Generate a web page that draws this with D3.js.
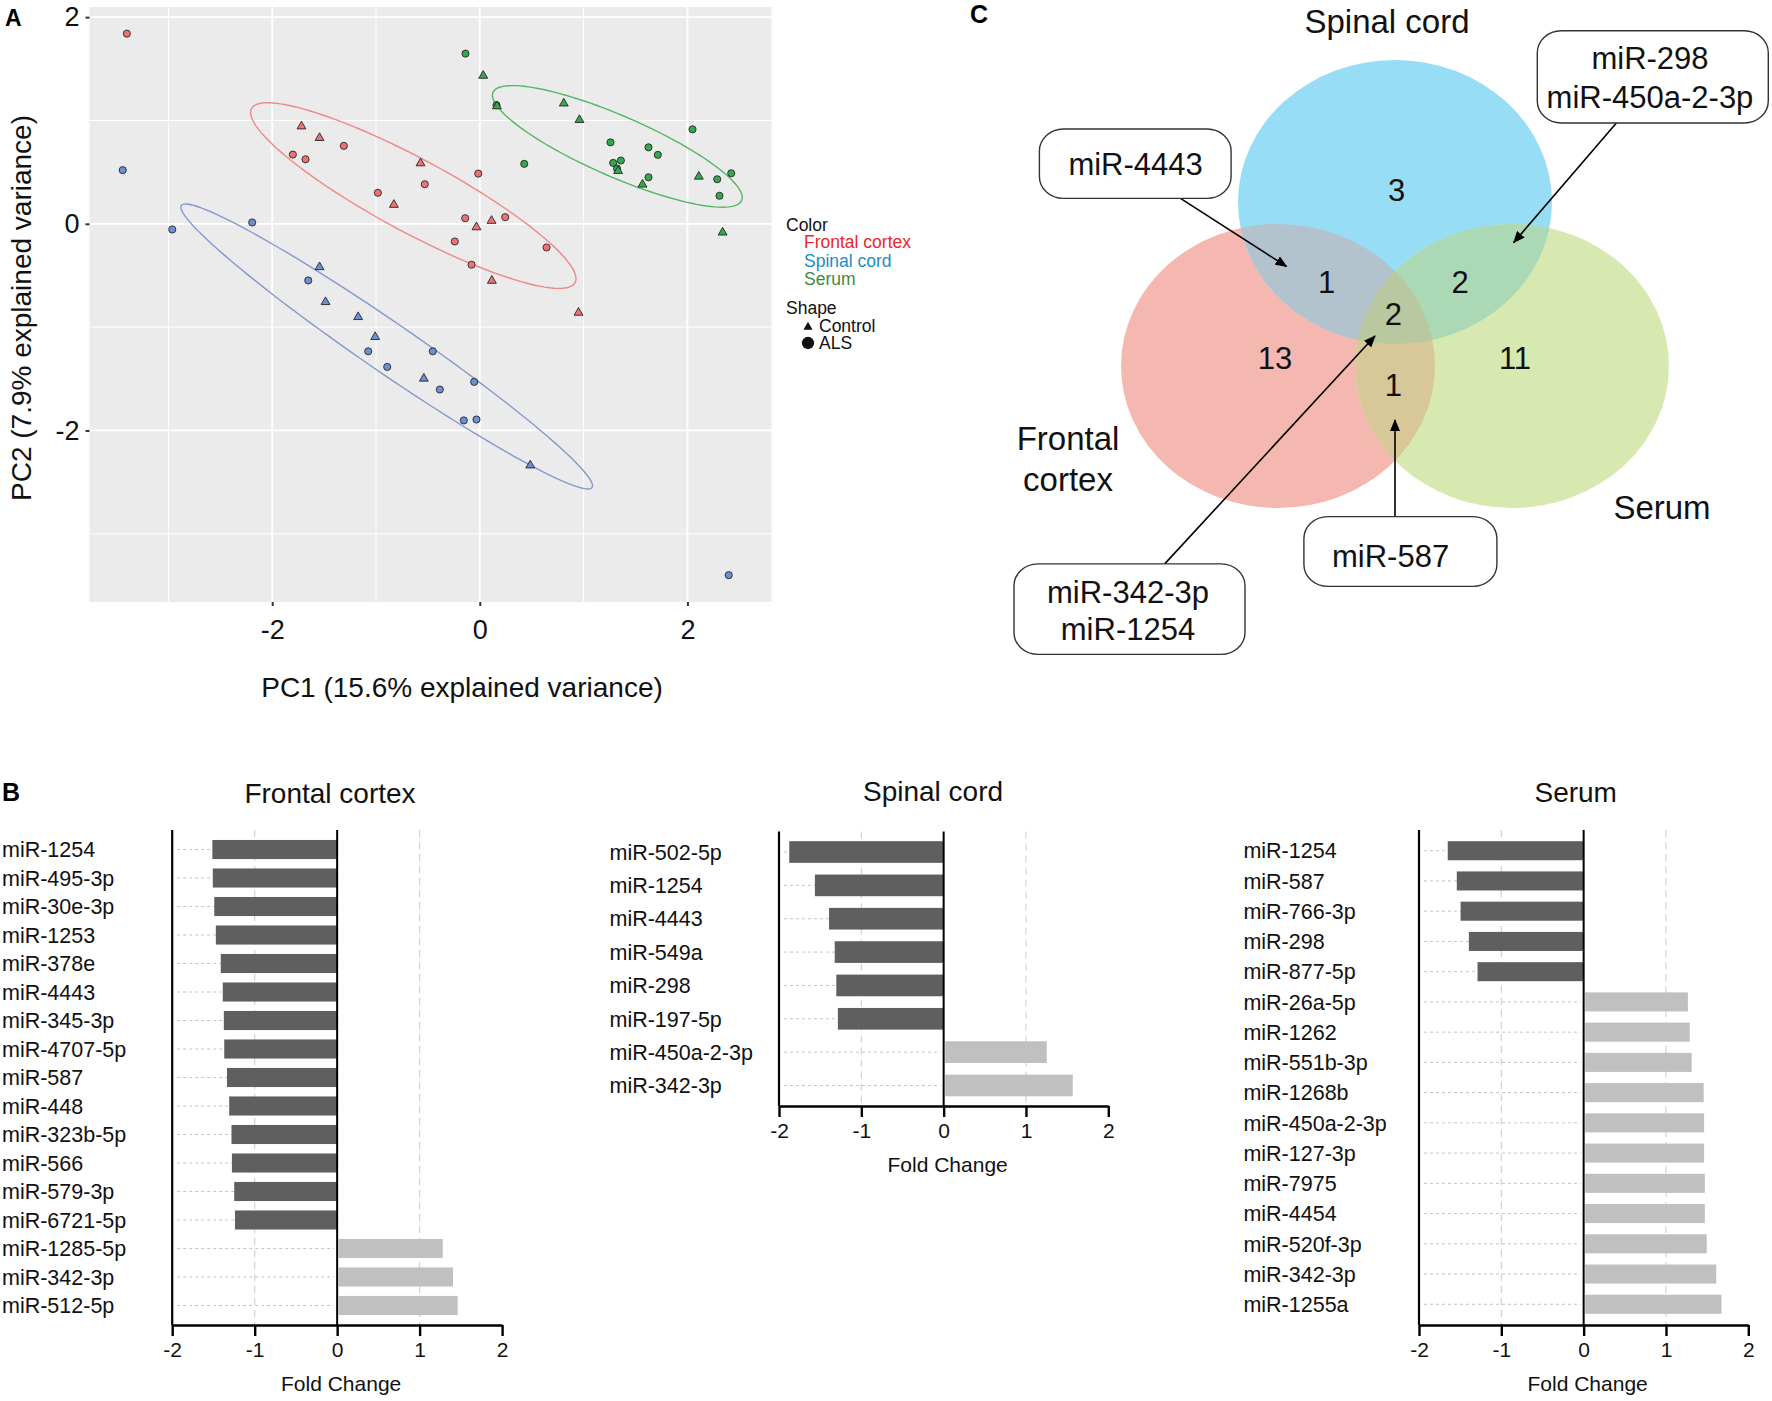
<!DOCTYPE html>
<html><head><meta charset="utf-8">
<script src="https://cdn.jsdelivr.net/npm/d3@7"></script>
<style>
body{margin:0;background:#fff;}
svg{font-family:"Liberation Sans", Arial, Helvetica, sans-serif;}
</style>
</head><body>
<svg id="c" width="1772" height="1401"></svg>
<script>
// ================= DATA =================
// Panel A: PCA scores [PC1, PC2, shape]
const frontalPCA = [
  [-3.40,1.84,"ALS"],[-1.718,0.943,"Control"],[-1.544,0.831,"Control"],[-1.310,0.754,"ALS"],
  [-1.801,0.670,"ALS"],[-1.679,0.624,"ALS"],[-0.571,0.586,"Control"],[-0.015,0.486,"ALS"],
  [-0.530,0.383,"ALS"],[-0.982,0.300,"ALS"],[-0.828,0.184,"Control"],[-0.141,0.054,"ALS"],
  [0.113,0.029,"Control"],[0.245,0.064,"ALS"],[-0.032,-0.033,"Control"],[-0.241,-0.171,"ALS"],
  [0.643,-0.229,"ALS"],[-0.080,-0.396,"ALS"],[0.116,-0.551,"Control"],[0.951,-0.860,"Control"]
];
const spinalPCA = [
  [-3.44,0.519,"ALS"],[-2.963,-0.055,"ALS"],[-2.193,0.013,"ALS"],[-1.544,-0.419,"Control"],
  [-1.653,-0.548,"ALS"],[-1.486,-0.757,"Control"],[-1.172,-0.902,"Control"],[-1.008,-1.095,"Control"],
  [-1.075,-1.234,"ALS"],[-0.892,-1.385,"ALS"],[-0.453,-1.234,"ALS"],[-0.539,-1.498,"Control"],
  [-0.385,-1.604,"ALS"],[-0.054,-1.530,"ALS"],[-0.154,-1.903,"ALS"],[-0.032,-1.894,"ALS"],
  [0.486,-2.338,"Control"],[2.398,-3.40,"ALS"]
];
const serumPCA = [
  [-0.138,1.647,"ALS"],[0.033,1.433,"Control"],[0.161,1.148,"ALS"],[0.165,1.138,"Control"],
  [0.809,1.165,"Control"],[0.960,1.005,"Control"],[2.049,0.914,"ALS"],[1.259,0.788,"ALS"],
  [1.625,0.740,"ALS"],[1.715,0.667,"ALS"],[0.428,0.580,"ALS"],[1.285,0.589,"ALS"],
  [1.359,0.612,"ALS"],[1.322,0.535,"ALS"],[1.332,0.512,"Control"],[1.625,0.450,"ALS"],
  [1.567,0.380,"Control"],[2.110,0.457,"Control"],[2.287,0.431,"ALS"],[2.422,0.489,"ALS"],
  [2.309,0.271,"ALS"],[2.339,-0.084,"Control"]
];
// 95% ellipses: [centre PC1, centre PC2, semi-major, semi-minor, angle(deg)]
const frontalEllipse = [-0.641, 0.273, 1.772, 0.354, -28.4];
const spinalEllipse  = [-0.897,-1.187, 2.403, 0.241, -34.6];
const serumEllipse   = [ 1.325, 0.749, 1.307, 0.294, -23.6];
const pcaXTicks = [-2,0,2], pcaYTicks = [2,0,-2];
const pcaXMinor = [-3,-1,1], pcaYMinor = [1,-1,-3];

// Panel B: fold changes
const frontalGenes = ["miR-1254","miR-495-3p","miR-30e-3p","miR-1253","miR-378e","miR-4443","miR-345-3p","miR-4707-5p","miR-587","miR-448","miR-323b-5p","miR-566","miR-579-3p","miR-6721-5p","miR-1285-5p","miR-342-3p","miR-512-5p"];
const frontalFC = [-1.513,-1.508,-1.490,-1.471,-1.411,-1.387,-1.374,-1.369,-1.336,-1.309,-1.281,-1.276,-1.248,-1.239,1.262,1.387,1.443];
const spinalGenes = ["miR-502-5p","miR-1254","miR-4443","miR-549a","miR-298","miR-197-5p","miR-450a-2-3p","miR-342-3p"];
const spinalFC = [-1.875,-1.564,-1.392,-1.323,-1.304,-1.285,1.234,1.550];
const serumGenes = ["miR-1254","miR-587","miR-766-3p","miR-298","miR-877-5p","miR-26a-5p","miR-1262","miR-551b-3p","miR-1268b","miR-450a-2-3p","miR-127-3p","miR-7975","miR-4454","miR-520f-3p","miR-342-3p","miR-1255a"];
const serumFC = [-1.651,-1.541,-1.495,-1.394,-1.289,1.248,1.271,1.294,1.440,1.445,1.445,1.454,1.454,1.477,1.592,1.656];
const fcTicks = [-2,-1,0,1,2];

// Panel C: Venn
const vennSets = ["Frontal cortex","Spinal cord","Serum"];
const vennRegions = ["F","S","R","FS","FR","SR","FSR"];
const vennCounts  = [13, 3, 11, 1, 1, 2, 2];
const vennNotes = [["miR-4443"],["miR-298","miR-450a-2-3p"],["miR-342-3p","miR-1254"],["miR-587"]];

// ================= DRAW =================
const svg = d3.select("#c");
const defs = svg.append("defs");
const plain = d => String(d);   // hyphen-minus like the original

// ---------- Panel A ----------
const colA = {"Frontal cortex":"#F07171","Spinal cord":"#6D8FD3","Serum":"#33A84C"};
const colEll = {"Frontal cortex":"#F08787","Spinal cord":"#8499CD","Serum":"#52B863"};
const x = d3.scaleLinear().domain([-3.76,2.81]).range([89.5,771.5]);
const y = d3.scaleLinear().domain([-3.66,2.098]).range([602,7]);
const gA = svg.append("g");
gA.append("rect").attr("x",x.range()[0]).attr("y",y.range()[1]).attr("width",x.range()[1]-x.range()[0]).attr("height",y.range()[0]-y.range()[1]).attr("fill","#EBEBEB");
gA.selectAll(".vmin").data(pcaXMinor).join("line").attr("x1",d=>x(d)).attr("x2",d=>x(d)).attr("y1",y.range()[1]).attr("y2",y.range()[0]).attr("stroke","#fff").attr("stroke-width",1);
gA.selectAll(".hmin").data(pcaYMinor).join("line").attr("y1",d=>y(d)).attr("y2",d=>y(d)).attr("x1",x.range()[0]).attr("x2",x.range()[1]).attr("stroke","#fff").attr("stroke-width",1);
gA.selectAll(".vmaj").data(pcaXTicks).join("line").attr("x1",d=>x(d)).attr("x2",d=>x(d)).attr("y1",y.range()[1]).attr("y2",y.range()[0]).attr("stroke","#fff").attr("stroke-width",1.8);
gA.selectAll(".hmaj").data(pcaYTicks).join("line").attr("y1",d=>y(d)).attr("y2",d=>y(d)).attr("x1",x.range()[0]).attr("x2",x.range()[1]).attr("stroke","#fff").attr("stroke-width",1.8);

// ellipses
const ellipses = [["Frontal cortex",frontalEllipse],["Spinal cord",spinalEllipse],["Serum",serumEllipse]];
const line = d3.line().x(d=>x(d[0])).y(d=>y(d[1]));
ellipses.forEach(([g,e])=>{
  const [cx,cy,a,b,ang]=e, th=ang*Math.PI/180;
  const pts=d3.range(0,361,3).map(t=>{const r=t*Math.PI/180, dx=a*Math.cos(r), dy=b*Math.sin(r);
    return [cx+dx*Math.cos(th)-dy*Math.sin(th), cy+dx*Math.sin(th)+dy*Math.cos(th)];});
  gA.append("path").attr("d",line(pts)+"Z").attr("fill","none").attr("stroke",colEll[g]).attr("stroke-width",1.4);
});
// points
const allPts = [].concat(frontalPCA.map(p=>[...p,"Frontal cortex"]), spinalPCA.map(p=>[...p,"Spinal cord"]), serumPCA.map(p=>[...p,"Serum"]));
const tri = d3.symbol(d3.symbolTriangle, 34), circ = d3.symbol(d3.symbolCircle, 40);
gA.selectAll(".pt").data(allPts).join("path")
  .attr("d",d=>d[2]==="Control"?tri():circ())
  .attr("transform",d=>`translate(${x(d[0])},${y(d[1])})`)
  .attr("fill",d=>colA[d[3]]).attr("stroke","#262626").attr("stroke-width",0.9);

// axes
const ax = gA.append("g").attr("transform",`translate(0,${y.range()[0]})`)
  .call(d3.axisBottom(x).tickValues(pcaXTicks).tickFormat(plain).tickSize(4).tickPadding(14).tickSizeOuter(0));
const ay = gA.append("g").attr("transform",`translate(${x.range()[0]},0)`)
  .call(d3.axisLeft(y).tickValues(pcaYTicks).tickFormat(plain).tickSize(4).tickPadding(6).tickSizeOuter(0));
[ax,ay].forEach(a=>{a.select(".domain").remove();a.selectAll("line").attr("stroke","#333").attr("stroke-width",2);
  a.selectAll("text").attr("font-size",27).attr("fill","#111").attr("font-family",'"Liberation Sans", Arial, sans-serif');});
gA.append("text").attr("x",462).attr("y",697).attr("text-anchor","middle").attr("font-size",28).attr("fill","#111").text("PC1 (15.6% explained variance)");
gA.append("text").attr("transform","translate(31,308) rotate(-90)").attr("text-anchor","middle").attr("font-size",28).attr("fill","#111").text("PC2 (7.9% explained variance)");
svg.append("text").attr("x",5).attr("y",26).attr("font-size",23).attr("font-weight","bold").text("A");

// legend
const lg = svg.append("g").attr("font-size",17.5);
lg.append("text").attr("x",786).attr("y",231).attr("fill","#111").text("Color");
const legCol = {"Frontal cortex":"#E8262C","Spinal cord":"#1B8DC8","Serum":"#3E8A3E"};
vennSets.forEach((s,i)=>lg.append("text").attr("x",804).attr("y",248+i*18.5).attr("fill",legCol[s]).text(s));
lg.append("text").attr("x",786).attr("y",314).attr("fill","#111").text("Shape");
lg.append("path").attr("d",d3.symbol(d3.symbolTriangle,36)()).attr("transform","translate(808,327)").attr("fill","#111");
lg.append("path").attr("d",d3.symbol(d3.symbolCircle,120)()).attr("transform","translate(808,343)").attr("fill","#111");
lg.append("text").attr("x",819).attr("y",332).attr("fill","#111").text("Control");
lg.append("text").attr("x",819).attr("y",349).attr("fill","#111").text("ALS");

// ---------- Panel B ----------
function barChart(genes, vals, o){
  const g = svg.append("g");
  const xs = d3.scaleLinear().domain([-2,2]).range([o.x0,o.x1]);
  const ys = d3.scaleBand().domain(genes).range([o.top,o.bottom]).paddingInner(o.pi).paddingOuter(o.po);
  g.selectAll(".vg").data([-1,1]).join("line").attr("x1",d=>xs(d)).attr("x2",d=>xs(d)).attr("y1",o.top).attr("y2",o.bottom)
    .attr("stroke","#cfcfcf").attr("stroke-width",1.1).attr("stroke-dasharray","7,5");
  g.selectAll(".hg").data(genes).join("line").attr("x1",xs(-2)+5).attr("x2",xs(0)-3)
    .attr("y1",d=>ys(d)+ys.bandwidth()/2).attr("y2",d=>ys(d)+ys.bandwidth()/2)
    .attr("stroke","#c4c4c4").attr("stroke-width",1).attr("stroke-dasharray","3,3");
  g.selectAll(".bar").data(genes.map((d,i)=>[d,vals[i]])).join("rect")
    .attr("x",d=>d[1]<0?xs(d[1]):xs(0)+1.5).attr("width",d=>Math.abs(xs(d[1])-xs(0)))
    .attr("y",d=>ys(d[0])).attr("height",ys.bandwidth())
    .attr("fill",d=>d[1]<0?"#5F5F5F":"#C0C0C0");
  g.append("line").attr("x1",xs(0)).attr("x2",xs(0)).attr("y1",o.top).attr("y2",o.bottom).attr("stroke","#000").attr("stroke-width",2);
  g.append("line").attr("x1",xs(-2)).attr("x2",xs(-2)).attr("y1",o.top).attr("y2",o.bottom).attr("stroke","#000").attr("stroke-width",2.2);
  const a = g.append("g").attr("transform",`translate(0,${o.bottom})`)
    .call(d3.axisBottom(xs).tickValues(fcTicks).tickSize(11).tickPadding(6).tickSizeOuter(0).tickFormat(plain));
  a.select(".domain").attr("stroke","#000").attr("stroke-width",2.6);
  a.selectAll("line").attr("stroke","#000").attr("stroke-width",2.4);
  a.selectAll("text").attr("font-size",21).attr("fill","#111").attr("font-family",'"Liberation Sans", Arial, sans-serif');
  g.append("text").attr("x",xs(0)+4).attr("y",o.bottom+66).attr("text-anchor","middle").attr("font-size",21).attr("fill","#111").text("Fold Change");
  g.selectAll(".lab").data(genes).join("text").attr("x",o.lx).attr("y",d=>ys(d)+ys.bandwidth()/2).attr("dy","0.36em")
    .attr("font-size",21.5).attr("fill","#111").text(d=>d);
  g.append("text").attr("x",o.tx).attr("y",o.ty).attr("text-anchor","middle").attr("font-size",28).attr("fill","#111").text(o.title);
}
barChart(frontalGenes, frontalFC, {x0:172.2,x1:502.1,top:830,bottom:1325,pi:0.33,po:0.35,lx:2,tx:330,ty:802.5,title:"Frontal cortex"});
barChart(spinalGenes, spinalFC, {x0:779,x1:1108.3,top:831.5,bottom:1106,pi:0.35,po:0.29,lx:609.5,tx:933,ty:800.5,title:"Spinal cord"});
barChart(serumGenes, serumFC, {x0:1419,x1:1748.3,top:830,bottom:1325,pi:0.37,po:0.37,lx:1243.4,tx:1575.7,ty:801.5,title:"Serum"});
svg.append("text").attr("x",2).attr("y",801).attr("font-size",25).attr("font-weight","bold").text("B");

// ---------- Panel C ----------
const gC = svg.append("g");
const RX=157, RY=142;
const vc = {F:[1278,366], S:[1395,202], R:[1512,366]};
const vFill = {F:"#F5B8B1", S:"#97DDF5", R:"#D8E8B1"};
["F","S","R"].forEach(k=>{
  defs.append("clipPath").attr("id","clip"+k).append("ellipse").attr("cx",vc[k][0]).attr("cy",vc[k][1]).attr("rx",RX).attr("ry",RY);
});
["F","S","R"].forEach(k=>gC.append("ellipse").attr("cx",vc[k][0]).attr("cy",vc[k][1]).attr("rx",RX).attr("ry",RY).attr("fill",vFill[k]));
function clipped(k, clipK, fill, parent){
  (parent||gC).append("ellipse").attr("cx",vc[k][0]).attr("cy",vc[k][1]).attr("rx",RX).attr("ry",RY).attr("clip-path",`url(#clip${clipK})`).attr("fill",fill);
}
clipped("S","F","#B3C3CE");
clipped("R","S","#ABD9B5");
clipped("R","F","#D8C897");
const gCenter = gC.append("g").attr("clip-path","url(#clipS)");
clipped("R","F","#B9C8A0",gCenter);

const countPos = {F:[1275,358.3],S:[1396.7,190],R:[1515,358.3],FS:[1326.7,281.7],FR:[1393.3,385],SR:[1460,281.7],FSR:[1393.3,314]};
vennRegions.forEach((r,i)=>gC.append("text").attr("x",countPos[r][0]).attr("y",countPos[r][1]).attr("dy","0.36em")
  .attr("text-anchor","middle").attr("font-size",31).attr("fill","#111").text(vennCounts[i]));
gC.append("text").attr("x",1387).attr("y",33).attr("text-anchor","middle").attr("font-size",33).attr("fill","#111").text(vennSets[1]);
const fcWords = vennSets[0].split(" ");
gC.append("text").attr("x",1068).attr("y",450).attr("text-anchor","middle").attr("font-size",33).attr("fill","#111").text(fcWords[0]);
gC.append("text").attr("x",1068).attr("y",491).attr("text-anchor","middle").attr("font-size",33).attr("fill","#111").text(fcWords[1]);
gC.append("text").attr("x",1662).attr("y",519).attr("text-anchor","middle").attr("font-size",33).attr("fill","#111").text(vennSets[2]);
svg.append("text").attr("x",970).attr("y",23).attr("font-size",25).attr("font-weight","bold").text("C");

defs.append("marker").attr("id","arr").attr("viewBox","0 0 12 10").attr("refX",11).attr("refY",5)
  .attr("markerWidth",12).attr("markerHeight",10).attr("markerUnits","userSpaceOnUse").attr("orient","auto")
  .append("path").attr("d","M0,0 L12,5 L0,10 Z").attr("fill","#000");
const boxes = [
  {b:[1039.4,129,1231.1,198.4], tx:1135.6, ty:[175], a:[1180.5,198.4,1286.5,266.5]},
  {b:[1537.3,30.8,1768.3,123], tx:1650, ty:[68.5,107.5], a:[1616.4,123,1513.7,242.5]},
  {b:[1014,563.9,1245,654.4], tx:1128, ty:[602.5,640], a:[1164.7,563.9,1375,336]},
  {b:[1303.9,516.6,1496.9,586.4], tx:1390.6, ty:[566.5], a:[1395,516.6,1395,420]}
];
boxes.forEach((bx,i)=>{
  gC.append("line").attr("x1",bx.a[0]).attr("y1",bx.a[1]).attr("x2",bx.a[2]).attr("y2",bx.a[3])
    .attr("stroke","#000").attr("stroke-width",1.6).attr("marker-end","url(#arr)");
  gC.append("rect").attr("x",bx.b[0]).attr("y",bx.b[1]).attr("width",bx.b[2]-bx.b[0]).attr("height",bx.b[3]-bx.b[1])
    .attr("rx",24).attr("ry",22).attr("fill","#fff").attr("stroke","#333").attr("stroke-width",1.4);
  vennNotes[i].forEach((t,j)=>gC.append("text").attr("x",bx.tx).attr("y",bx.ty[j]).attr("text-anchor","middle")
    .attr("font-size",31).attr("fill","#111").text(t));
});
</script>
</body></html>
